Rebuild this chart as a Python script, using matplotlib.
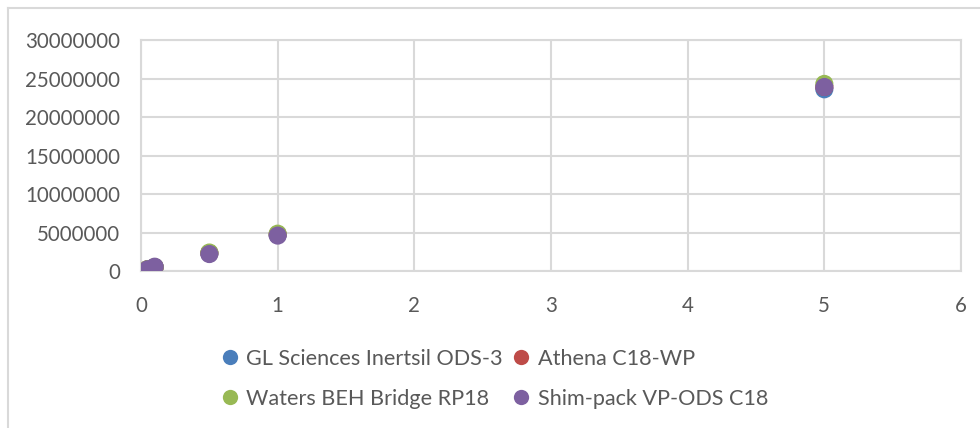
import matplotlib.pyplot as plt
from matplotlib.lines import Line2D

plt.rcParams['font.family'] = ['Lato', 'DejaVu Sans']

conc = [0.05, 0.1, 0.5, 1, 5]
series_names = ['GL Sciences Inertsil ODS-3', 'Athena C18-WP',
                'Waters BEH Bridge RP18', 'Shim-pack VP-ODS C18']
gl_area = [240000, 480000, 2300000, 4700000, 23600000]
athena_area = [245000, 490000, 2320000, 4750000, 23900000]
waters_area = [260000, 520000, 2400000, 4850000, 24300000]
shim_area = [230000, 560000, 2200000, 4600000, 23900000]
colors = ['#4a7ebb', '#be4b48', '#98b954', '#7d60a0']

xticks = [0, 1, 2, 3, 4, 5, 6]
yticks = [0, 5000000, 10000000, 15000000, 20000000, 25000000, 30000000]

fig = plt.figure(figsize=(9.8, 4.28), dpi=100)
ax = fig.add_axes([0.1439, 0.3668, 0.8367, 0.5397])

for vals, c, name in zip([gl_area, athena_area, waters_area, shim_area], colors, series_names):
    ax.scatter(conc, vals, s=170, color=c, edgecolors='none', label=name, zorder=3)

ax.set_xlim(0, 6)
ax.set_ylim(0, 30000000)
ax.set_xticks(xticks)
ax.set_yticks(yticks)
ax.set_xticklabels([str(t) for t in xticks])
ax.set_yticklabels([str(t) for t in yticks])
ax.grid(True, color='#d9d9d9', linewidth=1.5)
ax.set_axisbelow(True)
for s in ax.spines.values():
    s.set_color('#d9d9d9')
    s.set_linewidth(1.5)
ax.tick_params(length=0, labelsize=14.8, colors='#595959')
ax.tick_params(axis='y', pad=15)
ax.tick_params(axis='x', pad=18)

# legend is filled row by row in the reference, matplotlib fills columns
order = [0, 2, 1, 3]
handles = [Line2D([], [], marker='o', linestyle='none', markersize=11,
                  markerfacecolor=colors[i], markeredgecolor='none') for i in order]
labels = [series_names[i] for i in order]
leg = fig.legend(handles, labels, ncol=2, loc='upper left',
                 bbox_to_anchor=(0.215, 0.21), frameon=False,
                 fontsize=15.6, labelcolor='#595959',
                 handletextpad=0.35, columnspacing=0.45, labelspacing=0.92,
                 handlelength=0.8, borderpad=0)

# outer chart frame (left and top edges visible)
fig.add_artist(Line2D([0.0082, 0.0082], [0, 0.981], color='#d9d9d9', lw=1.5))
fig.add_artist(Line2D([0.0082, 1], [0.981, 0.981], color='#d9d9d9', lw=1.5))

fig.savefig('out.png', dpi=100)
